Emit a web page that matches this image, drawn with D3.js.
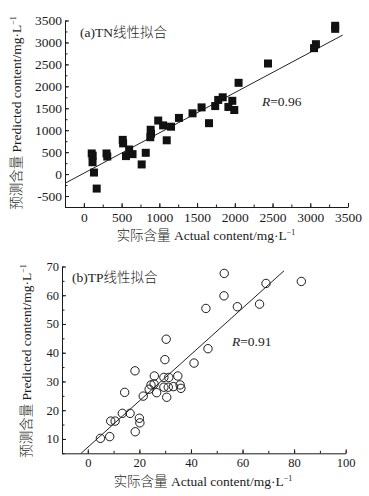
<!DOCTYPE html>
<html><head><meta charset="utf-8">
<script src="https://cdn.jsdelivr.net/npm/d3@7/dist/d3.min.js"></script>
<style>
body{margin:0;background:#fff;}
svg text{font-family:"Liberation Serif","Noto Sans CJK SC",serif;fill:#1a1a1a;font-weight:300;}
</style></head>
<body><svg id="c" width="369" height="496"></svg>
<script>
// TN data (actual, predicted) mg/L
const tnActual = [104,117,115,134,170,300,310,515,520,600,558,645,820,766,885,890,880,985,1050,1155,1098,1260,1440,1560,1658,1740,1780,1840,1915,1967,1993,2050,2440,3050,3075,3330,3330];
const tnPred   = [470,420,270,35,-330,470,400,780,700,560,410,455,485,220,1010,920,840,1220,1110,1080,770,1280,1385,1520,1160,1550,1690,1750,1530,1670,1460,2080,2520,2870,2960,3380,3310];
const tnFit = {slope:0.918, intercept:20, x0:-250, x1:3430};
const tnXTicks = [0,500,1000,1500,2000,2500,3000,3500];
const tnYTicks = [-500,0,500,1000,1500,2000,2500,3000,3500];

// TP data
const tpActual = [4.9,8.5,8.9,10.6,13.4,16.4,18.4,20.0,20.2,14.3,21.5,18.3,23.8,24.5,25.7,26.7,25.8,29.5,31.4,34.9,29.5,31.2,33.2,35.8,36.1,30.6,29.9,30.4,41.2,46.6,45.8,52.8,52.9,58.0,66.6,69.1,82.8];
const tpPred   = [10.2,10.8,16.2,16.2,18.9,18.9,12.5,17.2,15.6,26.2,24.9,33.7,27.3,28.8,29.1,26.1,31.9,31.4,31.4,31.9,28.0,28.0,28.2,28.8,27.6,24.5,37.6,44.7,36.4,41.4,55.4,59.8,67.6,56.0,56.9,64.1,64.8];
const tpFit = {slope:0.807, intercept:7.1, x0:-2.6, x1:76.1};
const tpXTicks = [0,20,40,60,80,100];
const tpYTicks = [10,20,30,40,50,60,70];

const svg = d3.select("#c");
const FS = 13.5;

function yLabel(g, x, y){
  const t = g.append("text").attr("transform",`translate(${x},${y}) rotate(-90)`)
    .attr("text-anchor","middle").attr("font-size",FS);
  t.append("tspan").text("预测含量 Predicted content/mg·L");
  t.append("tspan").attr("font-size",8).attr("dy",-5).text("−1");
}
function xLabel(g, x, y){
  const t = g.append("text").attr("x",x).attr("y",y).attr("text-anchor","middle").attr("font-size",FS);
  t.append("tspan").text("实际含量 Actual content/mg·L");
  t.append("tspan").attr("font-size",8).attr("dy",-5).text("−1");
}

function panel(o){
  const g = svg.append("g");
  const x = d3.scaleLinear().domain(o.xd).range(o.xr);
  const y = d3.scaleLinear().domain(o.yd).range(o.yr);
  const bottom = o.yr[0], left = o.xr[0];
  // minor ticks
  g.append("g").attr("transform",`translate(0,${bottom})`)
    .call(d3.axisBottom(x).tickValues(o.xMinor).tickSize(-2.5).tickSizeOuter(0).tickFormat(""))
    .call(s=>s.select(".domain").remove());
  g.append("g").attr("transform",`translate(${left},0)`)
    .call(d3.axisLeft(y).tickValues(o.yMinor).tickSize(-2.5).tickSizeOuter(0).tickFormat(""))
    .call(s=>s.select(".domain").remove());
  // major
  const ax = g.append("g").attr("transform",`translate(0,${bottom})`)
    .call(d3.axisBottom(x).tickValues(o.xTicks).tickSize(-4).tickSizeOuter(0).tickPadding(5).tickFormat(d3.format("d")));
  const ay = g.append("g").attr("transform",`translate(${left},0)`)
    .call(d3.axisLeft(y).tickValues(o.yTicks).tickSize(-4).tickSizeOuter(0).tickPadding(3).tickFormat(d=>d<0?"-"+Math.abs(d):d));
  [ax,ay].forEach(a=>{a.selectAll("text").attr("font-size",o.tickFS).attr("font-family","Liberation Serif, serif").attr("fill","#1a1a1a");
    a.selectAll("line,path").attr("stroke","#1a1a1a");});
  g.selectAll(".tick line").attr("stroke","#1a1a1a");
  // fit line
  g.append("line").attr("x1",x(o.fit.x0)).attr("y1",y(o.fit.slope*o.fit.x0+o.fit.intercept))
    .attr("x2",x(o.fit.x1)).attr("y2",y(o.fit.slope*o.fit.x1+o.fit.intercept))
    .attr("stroke","#222").attr("stroke-width",1);
  // points
  const data = o.xs.map((v,i)=>({a:v,p:o.ys[i]}));
  if(o.square){
    g.selectAll("rect.pt").data(data).join("rect").attr("class","pt")
      .attr("x",d=>x(d.a)-4).attr("y",d=>y(d.p)-4).attr("width",8).attr("height",8).attr("fill","#111");
  } else {
    g.selectAll("circle.pt").data(data).join("circle").attr("class","pt")
      .attr("cx",d=>x(d.a)).attr("cy",d=>y(d.p)).attr("r",4.2)
      .attr("fill","none").attr("stroke","#1a1a1a").attr("stroke-width",1);
  }
  // title
  g.append("text").attr("x",o.title[1]).attr("y",o.title[2]).attr("font-size",13.5).text(o.title[0]);
  const r = g.append("text").attr("x",o.rpos[0]).attr("y",o.rpos[1]).attr("font-size",13.5);
  r.append("tspan").attr("font-style","italic").text("R");
  r.append("tspan").text("=" + o.rval);
  xLabel(g, o.xlab[0], o.xlab[1]);
  yLabel(g, o.ylab[0], o.ylab[1]);
}

panel({xd:[-250,3500], xr:[65,348], yd:[-750,3500], yr:[207,20.5],
  xTicks:tnXTicks, yTicks:tnYTicks, tickFS:13.5,
  xMinor:d3.range(-250,3501,250), yMinor:d3.range(-750,3501,250),
  xs:tnActual, ys:tnPred, fit:tnFit, square:true,
  title:["(a)TN线性拟合",80,36.5], rpos:[262,106], rval:"0.96",
  xlab:[206,239.5], ylab:[21,113]});

panel({xd:[-10,100], xr:[62,345.7], yd:[5,70], yr:[453.3,266.5],
  xTicks:tpXTicks, yTicks:tpYTicks, tickFS:12.5,
  xMinor:d3.range(-10,101,10), yMinor:d3.range(5,71,5),
  xs:tpActual, ys:tpPred, fit:tpFit, square:false,
  title:["(b)TP线性拟合",72,282], rpos:[232,346], rval:"0.91",
  xlab:[203,486], ylab:[30.5,361]});
</script></body></html>
